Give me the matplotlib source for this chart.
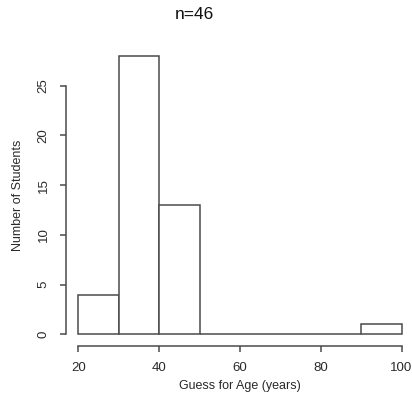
import matplotlib
matplotlib.use("Agg")
import matplotlib.pyplot as plt

# datos del histograma
bin_edges = [20, 30, 40, 50, 60, 70, 80, 90, 100]
counts = [4, 28, 13, 0, 0, 0, 0, 1]
x_ticks = [20, 40, 60, 80, 100]
y_ticks = [0, 5, 10, 15, 20, 25]

plt.rcParams['font.family'] = ['Liberation Sans', 'DejaVu Sans']
line_col = '#4a4a4a'
text_col = '#2a2a2a'

fig = plt.figure(figsize=(4.12, 4.07), dpi=100)
ax = fig.add_axes([0.159, 0.151, 0.847, 0.739])

lefts = bin_edges[:-1]
widths = [b - a for a, b in zip(bin_edges[:-1], bin_edges[1:])]
ax.bar(lefts, counts, width=widths, align='edge', facecolor='white',
       edgecolor=line_col, linewidth=1.1)

# limites estilo R (4% extra)
ax.set_xlim(16.8, 103.2)
ax.set_ylim(-1.12, 29.12)

for s in ['top', 'right']:
    ax.spines[s].set_visible(False)
ax.spines['left'].set_bounds(0, 25)
ax.spines['bottom'].set_bounds(20, 100)
for s in ['left', 'bottom']:
    ax.spines[s].set_color(line_col)
    ax.spines[s].set_linewidth(1.1)

ax.set_xticks(x_ticks)
ax.set_yticks(y_ticks)
ax.set_yticklabels([str(v) for v in y_ticks], rotation=90, va='center')
ax.tick_params(axis='both', length=4.5, width=1.1, color=line_col,
               labelsize=9.5, labelcolor=text_col)
ax.tick_params(axis='x', pad=7)
ax.tick_params(axis='y', pad=7)

ax.set_xlabel('Guess for Age (years)', fontsize=9, color=text_col, labelpad=5)
ax.set_ylabel('Number of Students', fontsize=9, color=text_col, labelpad=10)

fig.text(0.471, 0.965, 'n=46', ha='center', va='center', fontsize=12.5, color='#111111')

fig.savefig('out.png', dpi=100, facecolor='white')
